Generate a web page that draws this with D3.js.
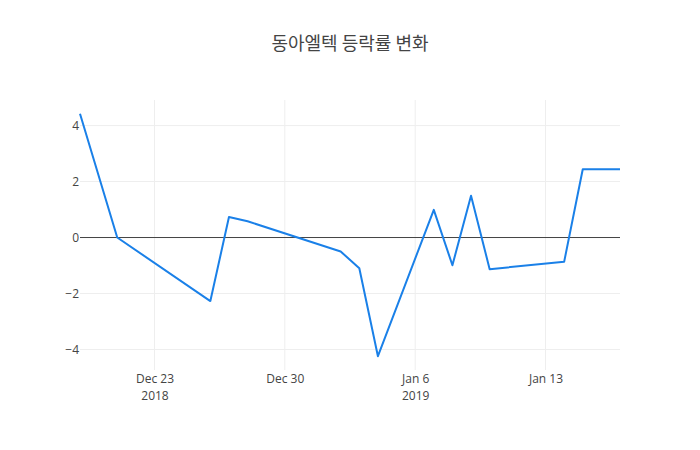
<!DOCTYPE html>
<html>
<head>
<meta charset='UTF-8'>
<title>동아엘텍 등락률 변화</title>
<script src='https://cdn.jsdelivr.net/npm/d3@7'></script>
<style>
  body {margin:0; background:#fff;}
  .axis text {font-family:'Open Sans', sans-serif; font-size:12px; fill:#444;}
  .axis path, .axis line {display:none;}
  .grid line {stroke:#eee; stroke-width:1px;}
</style>
</head>
<body>
<div id='chart'></div>
<script>
var dates = ['2018-12-19', '2018-12-21', '2018-12-26', '2018-12-27', '2018-12-28',
  '2019-01-02', '2019-01-03', '2019-01-04', '2019-01-07', '2019-01-08',
  '2019-01-09', '2019-01-10', '2019-01-14', '2019-01-15', '2019-01-17'];
var rates = [4.42, 0, -2.27, 0.73, 0.58, -0.5, -1.1, -4.24, 0.99, -0.99, 1.49, -1.13, -0.87, 2.44, 2.44];
var yTicks = [-4, -2, 0, 2, 4];
var xTickDates = ['2018-12-23', '2018-12-30', '2019-01-06', '2019-01-13'];
var xTickLabels = [['Dec 23', '2018'], ['Dec 30'], ['Jan 6', '2019'], ['Jan 13']];

var width = 700;
var height = 450;
var margin = {top: 100, right: 80, bottom: 80, left: 80};

var parseDate = d3.timeParse('%Y-%m-%d');
var data = dates.map(function(d, i) { return {date: parseDate(d), value: rates[i]}; });

/* Scales */
var xScale = d3.scaleTime()
  .domain(d3.extent(data, d => d.date))
  .range([margin.left, width - margin.right]);

var yMin = d3.min(rates), yMax = d3.max(rates);
var pad = (yMax - yMin) * 0.057;
var yScale = d3.scaleLinear()
  .domain([yMin - pad, yMax + pad])
  .range([height - margin.bottom, margin.top]);

var svg = d3.select('#chart').append('svg')
  .attr('width', width)
  .attr('height', height);

/* Grid */
var grid = svg.append('g').attr('class', 'grid');
grid.selectAll('.gx')
  .data(xTickDates.map(parseDate)).enter()
  .append('line')
  .attr('x1', d => xScale(d)).attr('x2', d => xScale(d))
  .attr('y1', margin.top).attr('y2', height - margin.bottom);
grid.selectAll('.gy')
  .data(yTicks.filter(d => d !== 0)).enter()
  .append('line')
  .attr('x1', margin.left).attr('x2', width - margin.right)
  .attr('y1', d => yScale(d)).attr('y2', d => yScale(d));

/* Zero line */
svg.append('line')
  .attr('x1', margin.left).attr('x2', width - margin.right)
  .attr('y1', yScale(0)).attr('y2', yScale(0))
  .style('stroke', '#444')
  .style('stroke-width', '1px');

/* Line */
var line = d3.line()
  .x(d => xScale(d.date))
  .y(d => yScale(d.value));

svg.append('path')
  .datum(data)
  .attr('d', line)
  .style('fill', 'none')
  .style('stroke', '#1a80e8')
  .style('stroke-width', '2px')
  .style('stroke-linejoin', 'round');

/* Axes */
var yAxis = d3.axisLeft(yScale).tickValues(yTicks).tickSize(0).tickPadding(1)
  .tickFormat(d => d < 0 ? '\u2212' + Math.abs(d) : d);
svg.append('g')
  .attr('class', 'y axis')
  .attr('transform', `translate(${margin.left}, 0)`)
  .call(yAxis);

var xAxis = d3.axisBottom(xScale).tickValues(xTickDates.map(parseDate)).tickSize(0).tickFormat('');
var xg = svg.append('g')
  .attr('class', 'x axis')
  .attr('transform', `translate(0, ${height - margin.bottom})`)
  .call(xAxis);
// two-line labels: date, then year under the first tick of each year
xg.selectAll('.tick').each(function(d, i) {
  var tick = d3.select(this);
  tick.select('text').remove();
  xTickLabels[i].forEach(function(s, j) {
    tick.append('text')
      .attr('x', 0)
      .attr('y', 13 + j * 16.5)
      .attr('text-anchor', 'middle')
      .text(s);
  });
});

/* Title */
svg.append('text')
  .attr('x', width / 2)
  .attr('y', 50)
  .attr('text-anchor', 'middle')
  .style('font-family', "'Noto Sans CJK KR', 'Open Sans', sans-serif")
  .style('font-size', '18px')
  .style('fill', '#444')
  .text('동아엘텍 등락률 변화');
</script>
</body>
</html>
